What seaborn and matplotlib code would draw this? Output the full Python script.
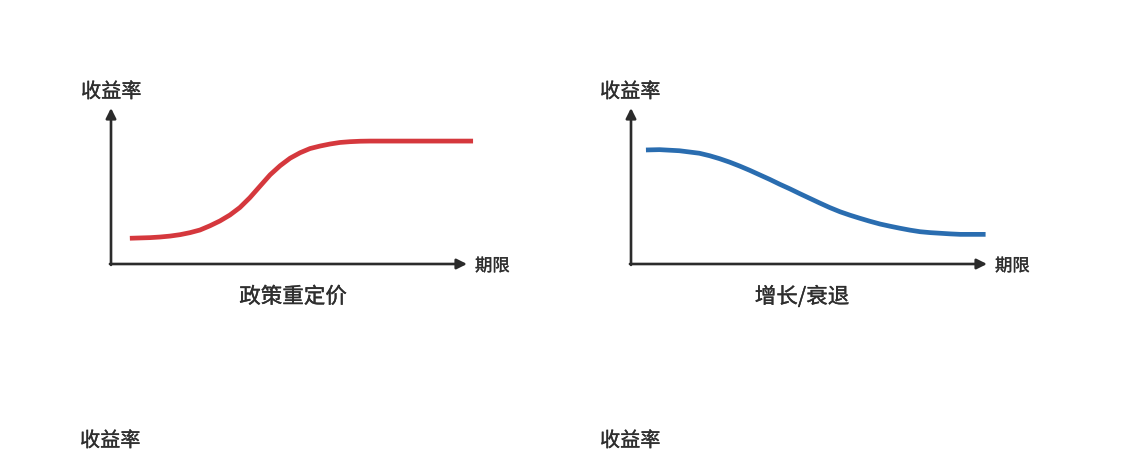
import numpy as np
import pandas as pd
import seaborn as sns
import matplotlib.pyplot as plt
import matplotlib.patheffects as pe

# ---- data (x: 期限, y: 收益率; arbitrary 0-10 units) ----
policy_x = [0.53, 0.81, 1.10, 1.38, 1.66, 1.94, 2.22, 2.50, 2.78, 3.06, 3.34, 3.62, 3.90,
            4.19, 4.47, 4.75, 5.03, 5.31, 5.59, 5.87, 6.15, 6.43, 6.71, 7.00, 7.28, 8.50, 10.17]
policy_y = [1.65, 1.67, 1.69, 1.73, 1.79, 1.88, 2.01, 2.18, 2.45, 2.76, 3.14, 3.62, 4.25,
            5.00, 5.72, 6.30, 6.78, 7.13, 7.40, 7.56, 7.69, 7.79, 7.84, 7.87, 7.88, 7.88, 7.88]

growth_x = [0.42, 0.80, 1.36, 1.92, 2.21, 2.49, 2.77, 3.05, 3.33, 3.61, 3.90, 4.18, 4.46,
            4.74, 5.02, 5.30, 5.58, 5.87, 6.15, 6.43, 6.71, 7.00, 7.28, 7.56, 7.84, 8.12,
            8.41, 8.69, 8.97, 9.25, 9.96]
growth_y = [7.31, 7.33, 7.26, 7.10, 6.94, 6.75, 6.53, 6.28, 6.01, 5.72, 5.42, 5.11, 4.82,
            4.51, 4.21, 3.91, 3.62, 3.35, 3.13, 2.93, 2.74, 2.56, 2.42, 2.29, 2.17, 2.07,
            2.01, 1.97, 1.93, 1.90, 1.90]

titles = ["政策重定价", "增长/衰退"]
y_label = "收益率"
x_label = "期限"
colors = ["#d5383d", "#2a6db0"]

sns.set_theme(style="white")
plt.rcParams['font.family'] = ['Noto Sans CJK SC', 'DejaVu Sans']

W, H = 1138, 455
fig = plt.figure(figsize=(W / 100, H / 100), dpi=100)
fig.patch.set_facecolor("white")


def rect(x0, y0, x1, y1):
    return [x0 / W, 1 - y0 / H, (x1 - x0) / W, (y0 - y1) / H]


def fx(px):
    return px / W


def fy(py):
    return 1 - py / H


AX_COLOR = "#2b2b2b"
TXT_COLOR = "#2e2e2e"
TXT_FX = [pe.withStroke(linewidth=0.25, foreground=TXT_COLOR)]

panels = [
    dict(origin=(111, 264), tip=(467, 108), xs=policy_x, ys=policy_y,
         title=titles[0], color=colors[0], ylab=(81, 92), xlab=(475, 266), tpos=(293, 297)),
    dict(origin=(631, 264), tip=(987, 108), xs=growth_x, ys=growth_y,
         title=titles[1], color=colors[1], ylab=(600, 92), xlab=(995, 266), tpos=(802, 297)),
]

for p in panels:
    ox, oy = p["origin"]
    tx, ty = p["tip"]
    ax = fig.add_axes(rect(ox, oy, tx, ty))
    ax.set_xlim(0, 10)
    ax.set_ylim(0, 10)
    df = pd.DataFrame({"x": p["xs"], "y": p["ys"]})
    sns.lineplot(data=df, x="x", y="y", ax=ax, color=p["color"], lw=3.4,
                 solid_capstyle="butt", solid_joinstyle="round", clip_on=False)
    for s in ax.spines.values():
        s.set_visible(False)
    ax.set_xticks([])
    ax.set_yticks([])
    ax.set_xlabel("")
    ax.set_ylabel("")
    ax.patch.set_alpha(0)
    arrow = dict(arrowstyle="-|>", color=AX_COLOR, lw=1.9, mutation_scale=15,
                 shrinkA=0, shrinkB=0)
    ax.annotate("", xy=(1, 0), xytext=(-0.003, 0), xycoords="axes fraction",
                arrowprops=arrow, annotation_clip=False)
    ax.annotate("", xy=(0, 1), xytext=(0, -0.006), xycoords="axes fraction",
                arrowprops=arrow, annotation_clip=False)

    fig.text(fx(p["ylab"][0]), fy(p["ylab"][1]), y_label, ha="left", va="center",
             fontsize=14.5, color=TXT_COLOR, path_effects=TXT_FX)
    fig.text(fx(p["xlab"][0]), fy(p["xlab"][1]), x_label, ha="left", va="center",
             fontsize=12.5, color=TXT_COLOR, path_effects=TXT_FX)
    fig.text(fx(p["tpos"][0]), fy(p["tpos"][1]), p["title"], ha="center", va="center",
             fontsize=15.5, color=TXT_COLOR, path_effects=TXT_FX)

# next row of panels (cut off by the frame): only their y labels are visible
for px in (80, 600):
    fig.text(fx(px), fy(441), y_label, ha="left", va="center",
             fontsize=14.5, color=TXT_COLOR, path_effects=TXT_FX)

fig.savefig("out.png", dpi=100, facecolor="white")
